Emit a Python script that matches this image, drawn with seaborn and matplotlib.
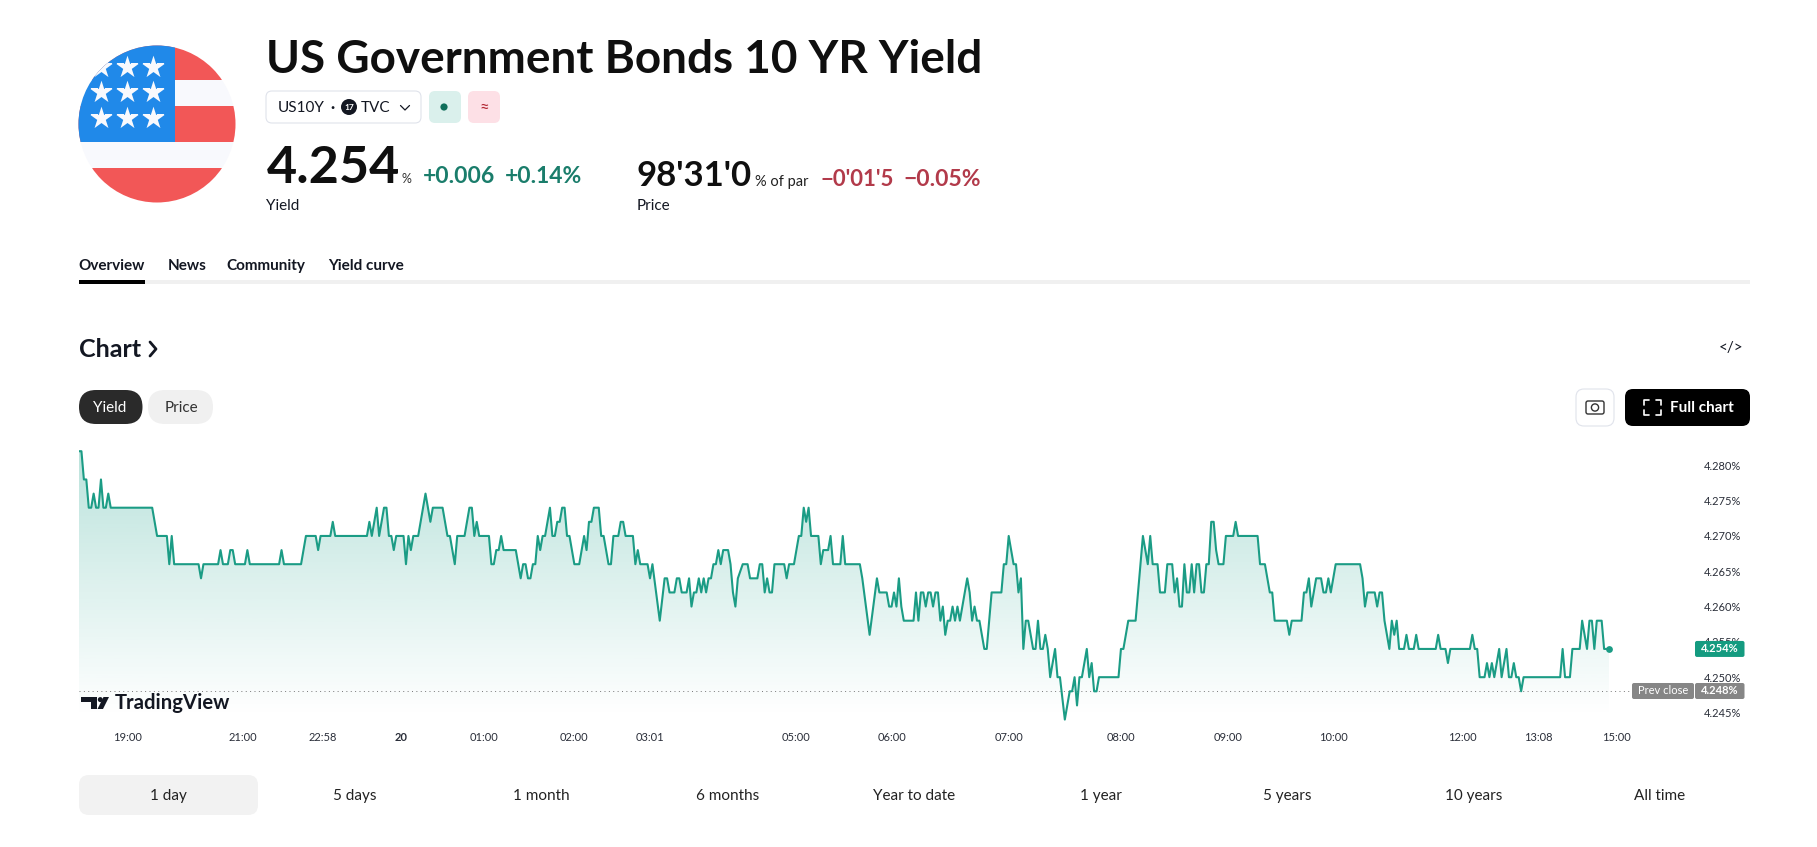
import numpy as np
import matplotlib
matplotlib.use('Agg')
import matplotlib.pyplot as plt
from matplotlib.patches import FancyBboxPatch, Circle, Rectangle, Polygon
import seaborn as sns

# Session bars and yield (%) at each turning point of the line
bars = [
    0, 1, 2, 3, 4, 5, 6, 7, 8, 9,
    10, 11, 12, 13, 30, 32, 36, 37, 38, 39,
    49, 50, 51, 57, 58, 59, 61, 62, 63, 64,
    68, 69, 70, 82, 83, 84, 91, 93, 97, 98,
    99, 103, 104, 105, 118, 119, 120, 122, 123, 125,
    126, 127, 128, 129, 130, 133, 134, 135, 136, 137,
    139, 142, 144, 145, 149, 151, 152, 154, 155, 158,
    160, 161, 162, 163, 164, 168, 169, 170, 171, 172,
    173, 174, 179, 181, 182, 183, 184, 185, 186, 187,
    188, 189, 190, 191, 193, 194, 195, 196, 197, 198,
    199, 200, 201, 203, 205, 207, 208, 209, 210, 211,
    213, 214, 215, 217, 218, 219, 221, 222, 223, 224,
    227, 228, 229, 230, 233, 234, 235, 238, 240, 241,
    242, 244, 245, 246, 247, 249, 250, 251, 252, 253,
    254, 255, 256, 257, 258, 259, 260, 261, 262, 263,
    264, 266, 267, 268, 269, 270, 272, 274, 275, 278,
    279, 280, 281, 282, 283, 284, 285, 289, 290, 291,
    293, 295, 296, 297, 298, 299, 300, 303, 304, 305,
    307, 308, 309, 312, 313, 314, 320, 321, 324, 327,
    328, 331, 332, 333, 334, 335, 336, 337, 338, 342,
    343, 344, 345, 346, 347, 348, 349, 350, 351, 352,
    353, 354, 355, 356, 357, 358, 359, 360, 361, 364,
    365, 366, 367, 368, 369, 371, 372, 374, 378, 379,
    380, 381, 383, 384, 385, 386, 387, 388, 389, 391,
    392, 393, 394, 395, 396, 397, 398, 400, 401, 402,
    404, 406, 407, 408, 409, 410, 411, 413, 414, 415,
    416, 417, 418, 426, 427, 428, 430, 433, 436, 438,
    439, 440, 442, 443, 445, 446, 448, 449, 450, 451,
    452, 453, 454, 455, 456, 457, 458, 459, 460, 461,
    462, 463, 464, 465, 466, 467, 469, 470, 473, 474,
    475, 483, 484, 486, 488, 489, 490, 495, 496, 497,
    501, 502, 503, 504, 505, 507, 509, 510, 511, 512,
    513, 515, 525, 526, 527, 528, 531, 532, 533, 534,
    535, 537, 538, 539, 540, 541, 543, 544, 545, 547,
    548, 549, 556, 557, 558, 560, 561, 562, 570, 571,
    572, 573, 574, 576, 577, 578, 579, 580, 582, 583,
    585, 586, 587, 588, 589, 590, 591, 592, 607, 608,
    609, 611, 612, 615, 616, 618, 619, 620, 621, 622,
    624, 625, 627,
]
yields = [
    4.282, 4.282, 4.278, 4.278, 4.274, 4.274, 4.276, 4.274, 4.274, 4.278,
    4.274, 4.274, 4.276, 4.274, 4.274, 4.270, 4.270, 4.266, 4.270, 4.266,
    4.266, 4.264, 4.266, 4.266, 4.268, 4.266, 4.266, 4.268, 4.268, 4.266,
    4.266, 4.268, 4.266, 4.266, 4.268, 4.266, 4.266, 4.270, 4.270, 4.268,
    4.270, 4.270, 4.272, 4.270, 4.270, 4.272, 4.270, 4.274, 4.270, 4.274,
    4.274, 4.270, 4.270, 4.268, 4.270, 4.270, 4.266, 4.270, 4.268, 4.270,
    4.270, 4.276, 4.272, 4.274, 4.274, 4.270, 4.270, 4.266, 4.270, 4.270,
    4.274, 4.274, 4.270, 4.272, 4.270, 4.270, 4.266, 4.266, 4.268, 4.268,
    4.270, 4.268, 4.268, 4.264, 4.266, 4.266, 4.264, 4.264, 4.266, 4.266,
    4.270, 4.268, 4.270, 4.270, 4.274, 4.270, 4.270, 4.272, 4.272, 4.274,
    4.274, 4.270, 4.270, 4.266, 4.266, 4.270, 4.268, 4.272, 4.272, 4.274,
    4.274, 4.270, 4.270, 4.266, 4.266, 4.270, 4.270, 4.272, 4.272, 4.270,
    4.270, 4.266, 4.268, 4.266, 4.266, 4.264, 4.266, 4.258, 4.264, 4.264,
    4.262, 4.262, 4.264, 4.264, 4.262, 4.262, 4.264, 4.260, 4.262, 4.262,
    4.264, 4.262, 4.264, 4.262, 4.264, 4.264, 4.266, 4.266, 4.268, 4.266,
    4.268, 4.268, 4.266, 4.262, 4.260, 4.264, 4.266, 4.266, 4.264, 4.264,
    4.266, 4.266, 4.262, 4.264, 4.262, 4.262, 4.266, 4.266, 4.264, 4.266,
    4.266, 4.270, 4.270, 4.274, 4.272, 4.274, 4.270, 4.270, 4.266, 4.268,
    4.268, 4.270, 4.266, 4.266, 4.270, 4.266, 4.266, 4.264, 4.256, 4.264,
    4.262, 4.262, 4.260, 4.260, 4.262, 4.260, 4.264, 4.260, 4.258, 4.258,
    4.262, 4.258, 4.262, 4.262, 4.260, 4.262, 4.262, 4.260, 4.262, 4.262,
    4.258, 4.260, 4.256, 4.258, 4.258, 4.260, 4.258, 4.260, 4.258, 4.264,
    4.262, 4.258, 4.260, 4.258, 4.258, 4.254, 4.254, 4.262, 4.262, 4.266,
    4.266, 4.270, 4.266, 4.266, 4.262, 4.264, 4.254, 4.258, 4.258, 4.254,
    4.254, 4.258, 4.254, 4.254, 4.256, 4.254, 4.250, 4.254, 4.250, 4.250,
    4.244, 4.248, 4.248, 4.250, 4.246, 4.250, 4.250, 4.254, 4.250, 4.252,
    4.248, 4.248, 4.250, 4.250, 4.254, 4.254, 4.258, 4.258, 4.270, 4.266,
    4.270, 4.266, 4.266, 4.262, 4.262, 4.266, 4.266, 4.262, 4.264, 4.260,
    4.260, 4.266, 4.262, 4.262, 4.266, 4.262, 4.266, 4.266, 4.262, 4.262,
    4.266, 4.266, 4.272, 4.272, 4.268, 4.266, 4.266, 4.270, 4.270, 4.272,
    4.270, 4.270, 4.266, 4.266, 4.262, 4.262, 4.258, 4.258, 4.256, 4.258,
    4.258, 4.262, 4.262, 4.264, 4.260, 4.264, 4.264, 4.262, 4.262, 4.264,
    4.262, 4.266, 4.266, 4.264, 4.260, 4.262, 4.262, 4.260, 4.262, 4.262,
    4.258, 4.254, 4.258, 4.256, 4.258, 4.254, 4.254, 4.256, 4.254, 4.254,
    4.256, 4.254, 4.254, 4.256, 4.254, 4.254, 4.252, 4.254, 4.254, 4.256,
    4.254, 4.254, 4.250, 4.250, 4.252, 4.250, 4.252, 4.250, 4.254, 4.250,
    4.254, 4.250, 4.250, 4.252, 4.250, 4.250, 4.248, 4.250, 4.250, 4.254,
    4.250, 4.250, 4.254, 4.254, 4.258, 4.254, 4.258, 4.258, 4.254, 4.258,
    4.258, 4.254, 4.254,
]
prev_close = 4.248
last_yield = 4.254

time_ticks = [20, 67, 100, 132, 166, 203, 234, 294, 333, 381, 427, 471, 514, 567, 598, 630]
time_labels = ['19:00', '21:00', '22:58', '20', '01:00', '02:00', '03:01', '05:00',
               '06:00', '07:00', '08:00', '09:00', '10:00', '12:00', '13:08', '15:00']
yield_ticks = [4.245, 4.250, 4.255, 4.260, 4.265, 4.270, 4.275, 4.280]
range_labels = ['1 day', '5 days', '1 month', '6 months', 'Year to date',
                '1 year', '5 years', '10 years', 'All time']
range_centers = [168, 355, 541, 728, 914, 1101, 1287, 1474, 1660]
nav_labels = ['Overview', 'News', 'Community', 'Yield curve']
nav_lefts = [78.5, 167.5, 226.5, 328.5]

TEAL = '#1b9c85'
W, H = 1817, 847

sns.set_theme(style='white')
plt.rcParams['font.family'] = ['Lato', 'DejaVu Sans']

fig = plt.figure(figsize=(W / 100, H / 100), dpi=100, facecolor='white')


def px_axes(left, top, right, bottom):
    return fig.add_axes([left / W, 1 - bottom / H, (right - left) / W, (bottom - top) / H])


# Line chart in its own axes
ax = px_axes(79, 445, 1700, 725)
ax.patch.set_alpha(0)
sns.lineplot(x=bars, y=yields, ax=ax, color=TEAL, linewidth=1.5, estimator=None, sort=False, zorder=4)
sns.scatterplot(x=[bars[-1]], y=[last_yield], ax=ax, color=TEAL, s=24, linewidth=0, zorder=5)

xlim = (0, 664.3)
ylim = (4.24323, 4.28288)
floor = 4.2445

# Fade under the line
grad = np.zeros((256, 1, 4))
grad[..., :3] = matplotlib.colors.to_rgb('#089981')
grad[..., 3] = np.linspace(0.28, 0, 256)[:, None]
shape = ax.fill_between(bars, yields, floor, color='none', linewidth=0)
im = ax.imshow(grad, extent=(0, bars[-1], floor, 4.2825), origin='upper', aspect='auto', zorder=2)
im.set_clip_path(shape.get_paths()[0], transform=ax.transData)

ax.plot([0, 635], [prev_close, prev_close], color='#777777', linewidth=0.7, dashes=(1, 3.5), zorder=3)

ax.set_xlim(xlim)
ax.set_ylim(ylim)
ax.set(xlabel='', ylabel='')
ax.set_xticks(time_ticks)
ax.set_xticklabels(time_labels)
ax.get_xticklabels()[3].set_fontweight('bold')
ax.yaxis.tick_right()
ax.set_yticks(yield_ticks)
ax.set_yticklabels(['%.3f%%' % v for v in yield_ticks])
ax.tick_params(axis='x', length=0, pad=5, labelsize=8, labelcolor='#2a2e39')
ax.tick_params(axis='y', length=0, pad=3, labelsize=8, labelcolor='#2a2e39')
sns.despine(ax=ax, left=True, bottom=True, right=True, top=True)

# Page furniture, in pixel coordinates
ui = fig.add_axes([0, 0, 1, 1], zorder=5)
ui.set_xlim(0, W)
ui.set_ylim(H, 0)
ui.axis('off')


def box(x0, y0, x1, y1, fc, ec='none', r=6, lw=0.8):
    p = FancyBboxPatch((x0, y0), x1 - x0, y1 - y0, boxstyle='round,pad=0,rounding_size=%s' % r,
                       fc=fc, ec=ec, lw=lw, mutation_aspect=1)
    ui.add_patch(p)
    return p


def label(x, y, s, size=11, color='#131722', weight='normal', ha='left', va='baseline', **kw):
    return ui.text(x, y, s, fontsize=size, color=color, fontweight=weight, ha=ha, va=va, **kw)


# Flag
disc = Circle((157, 124), 78.5, transform=ui.transData)
for x0, y0, w, h, c in [(78, 45, 160, 35, '#f25757'), (78, 80, 160, 26, '#f8f9fd'),
                        (78, 106, 160, 36, '#f25757'), (78, 142, 160, 26, '#f8f9fd'),
                        (78, 168, 160, 36, '#f25757'), (78, 45, 97, 97, '#2089e9')]:
    r = Rectangle((x0, y0), w, h, fc=c, ec='none')
    ui.add_patch(r)
    r.set_clip_path(disc)
star_x, star_y = np.meshgrid([100.7, 126.8, 152.9], [66.7, 92.3, 118.3])
stars = ui.scatter(star_x.ravel(), star_y.ravel(), marker='*', s=290, c='#f8f9fd', linewidths=0, zorder=3)
stars.set_clip_path(disc)

# Header
label(266, 73, 'US Government Bonds 10 YR Yield', size=33, weight='bold', color='#0f0f0f')
box(266, 91, 421, 123, 'white', '#e0e3eb')
label(278, 112, 'US10Y', size=11)
label(330, 112, '·', size=11, weight='bold')
ui.add_patch(Circle((349, 107), 8, fc='#131722', ec='none'))
label(349, 107.5, '17', size=6, color='white', weight='bold', ha='center', va='center')
label(361, 112, 'TVC', size=11)
ui.plot([400.5, 405, 409.5], [105.5, 110, 105.5], color='#131722', lw=0.9)
box(429, 91, 461, 123, '#daf0ec')
ui.add_patch(Circle((444, 107), 3.6, fc='#0f6e5a', ec='none'))
box(468, 91, 500, 123, '#fde0e6')
label(484, 107, '≈', size=12, color='#b22833', ha='center', va='center')

label(267, 183, '4.254', size=37.5, weight='bold', color='#0f0f0f')
label(402, 183, '%', size=9, color='#333333')
label(423, 183, '+0.006', size=16.5, weight='bold', color='#1a7d6b')
label(505, 183, '+0.14%', size=16.5, weight='bold', color='#1a7d6b')
label(266, 210, 'Yield', size=11)

label(637, 186, "98'31'0", size=25, weight='bold', color='#0f0f0f')
label(755, 186, '% of par', size=10.5, color='#222222')
label(820, 186, "−0'01'5", size=16, weight='bold', color='#b23a4a')
label(903, 186, '−0.05%', size=16.5, weight='bold', color='#b23a4a')
label(637, 210, 'Price', size=11)

# Section tabs
for x, s in zip(nav_lefts, nav_labels):
    label(x, 270, s, size=11, weight='bold')
ui.add_patch(Rectangle((79, 280), 1671, 4, fc='#f0f0f0', ec='none'))
ui.add_patch(Rectangle((79, 280), 66, 4, fc='#000000', ec='none'))

# Chart heading and buttons
label(79, 357, 'Chart', size=18, weight='bold')
ui.plot([150, 156, 150], [342, 349, 356], color='#131722', lw=2)
label(1731, 348, '</>', size=11, ha='center', va='center', weight='normal')

box(79, 390, 142.5, 424, '#2a2a2a', r=17)
label(110, 408, 'Yield', size=11, color='white', ha='center', va='center')
box(148, 390, 213, 424, '#f0f0f0', r=17)
label(181, 408, 'Price', size=11, color='#333333', ha='center', va='center')

box(1576, 389, 1614, 426, 'white', '#e0e3eb', r=8)
box(1586, 401, 1604, 414, 'none', '#333333', r=2, lw=1)
ui.add_patch(Circle((1595, 407.5), 3.6, fc='none', ec='#333333', lw=1))
box(1625, 389, 1750, 426, '#000000', r=8)
for cx, cy, sx, sy in [(1644, 400, 1, 1), (1661, 400, -1, 1), (1644, 415, 1, -1), (1661, 415, -1, -1)]:
    ui.plot([cx, cx, cx + 5 * sx], [cy + 5 * sy, cy, cy], color='white', lw=1.2)
label(1702, 408, 'Full chart', size=11, color='white', ha='center', va='center', weight='bold')

# Watermark
ui.add_patch(Polygon([(81, 697), (96.5, 697), (96.5, 709), (90.5, 709), (90.5, 702), (81, 702)], fc='#131722', ec='none'))
ui.add_patch(Circle((100.3, 699.6), 2.5, fc='#131722', ec='none'))
ui.add_patch(Polygon([(103.5, 697), (109, 697), (103, 709), (97.5, 709)], fc='#131722', ec='none'))
label(115, 709, 'TradingView', size=14.6, weight='bold', color='#131722')

# Price badges
y_last = 691.3 - (last_yield - prev_close) * 7060
box(1695, y_last - 8, 1744.5, y_last + 8, '#149b80', r=2)
label(1720, y_last, '%.3f%%' % last_yield, size=8, color='white', ha='center', va='center', weight='bold')
box(1632, 683, 1694, 699, '#868686', r=2)
box(1695, 683, 1744.5, 699, '#868686', r=2)
label(1663, 691, 'Prev close', size=8, color='white', ha='center', va='center')
label(1720, 691, '%.3f%%' % prev_close, size=8, color='white', ha='center', va='center', weight='bold')

# Range selector
box(79, 775, 258, 815, '#f2f2f2', r=10)
for x, s in zip(range_centers, range_labels):
    label(x, 796, s, size=11, color='#222222', ha='center', va='center')

fig.savefig('out.png', dpi=100, facecolor='white')
